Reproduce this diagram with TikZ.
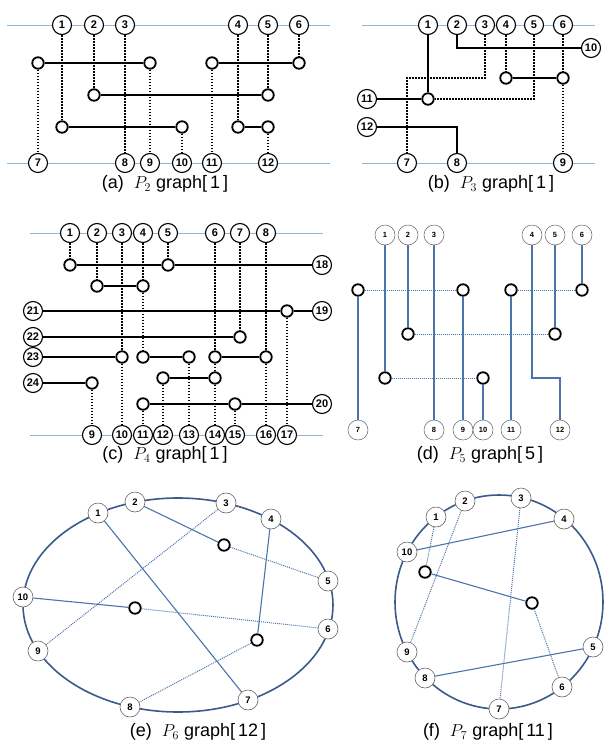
\documentclass[tikz,border=0pt]{standalone}
\usepackage{fontspec}
\setmainfont{Liberation Sans}
\usepackage{xcolor}
\definecolor{rail}{HTML}{8CB6DE}
\definecolor{wire}{HTML}{4A74AA}
\definecolor{ring}{HTML}{3A5A8C}
\definecolor{rim}{HTML}{666666}

\begin{document}
\begin{tikzpicture}[x=1pt,y=-1pt,
  num/.style={circle,draw,line width=1.1pt,fill=white,inner sep=0pt,minimum size=19pt,font=\fontsize{11}{11}\selectfont\bfseries},
  pale/.style={circle,draw=rim,line width=0.5pt,fill=white,inner sep=0pt,minimum size=20pt,font=\fontsize{7.5}{7.5}\selectfont\bfseries},
  rimnum/.style={circle,draw=rim,line width=0.6pt,fill=white,inner sep=0pt,minimum size=20pt,font=\fontsize{9.5}{9.5}\selectfont\bfseries},
  via/.style={circle,draw,line width=1.8pt,fill=white,inner sep=0pt,minimum size=11.5pt},
  sol/.style={line width=1.6pt},
  dot/.style={line width=1.8pt,dash pattern=on 1.5pt off 1.5pt},
  bsol/.style={draw=wire,line width=1.1pt},
  bdot/.style={draw=wire,line width=1pt,dash pattern=on 1pt off 1pt},
  railline/.style={draw=rail,line width=0.9pt},
  captext/.style={font=\fontsize{18}{20}\selectfont}]
\useasboundingbox (0,0) rectangle (605,745);

\draw[railline] (7,25) -- (330,25) (7,163) -- (330,163);
\draw[railline] (362,25) -- (595,25) (362,163) -- (595,163);
\draw[railline] (30,233) -- (323,233) (30,435) -- (323,435);
\draw[ring,line width=1.6pt] (178,605) ellipse [x radius=155pt,y radius=107pt];
\draw[ring,line width=1.6pt] (499,602) ellipse [x radius=104pt,y radius=107pt];

\path node[num] (a1) at (62,25) {1} node[num] (a2) at (94,25) {2} node[num] (a3) at (125,25) {3}
  node[num] (a4) at (238,25) {4} node[num] (a5) at (268,25) {5} node[num] (a6) at (299,25) {6}
  node[num] (a7) at (38,163) {7} node[num] (a8) at (125,163) {8} node[num] (a9) at (150,163) {9}
  node[num] (a10) at (182,163) {10} node[num] (a11) at (212,163) {11} node[num] (a12) at (268,163) {12};
\path node[via] (pa1) at (38,63) {} node[via] (pa2) at (150,63) {} node[via] (pa3) at (212,63) {} node[via] (pa4) at (299,63) {}
  node[via] (pa5) at (94,95) {} node[via] (pa6) at (268,95) {}
  node[via] (pa7) at (62,127) {} node[via] (pa8) at (182,127) {} node[via] (pa9) at (238,127) {} node[via] (pa10) at (268,127) {};
\path[sol] (pa1) edge (pa2) (pa3) edge (pa4) (pa5) edge (pa6) (pa7) edge (pa8) (pa9) edge (pa10);
\path[dot] (a1) edge (pa7) (a2) edge (pa5) (a3) edge (a8) (a4) edge (pa9) (a5) edge (pa6) (a6) edge (pa4)
  (pa1) edge (a7) (pa2) edge (a9) (pa8) edge (a10) (pa3) edge (a11) (pa10) edge (a12);
\node[captext] (capa) at (165,184) {(a)\ \ $P_2$\ graph[\,1\,]};

\path node[num] (b1) at (428,25) {1} node[num] (b2) at (457,25) {2} node[num] (b3) at (485,25) {3}
  node[num] (b4) at (506,25) {4} node[num] (b5) at (534,25) {5} node[num] (b6) at (563,25) {6}
  node[num] (b7) at (407,163) {7} node[num] (b8) at (457,163) {8} node[num] (b9) at (563,163) {9}
  node[num] (b10) at (591,48) {10} node[num] (b11) at (367,99) {11} node[num] (b12) at (367,127) {12};
\path node[via] (pb1) at (428,99) {} node[via] (pb2) at (506,78) {} node[via] (pb3) at (563,78) {};
\coordinate (cb) at (407,78);
\path[sol] (b1) edge (pb1) (b11) edge (pb1) (pb2) edge (pb3);
\draw[sol] (b2) |- (b10);
\draw[sol] (b12) -| (b8);
\path[dot] (b4) edge (pb2) (b6) edge (pb3) (pb3) edge (b9);
\draw[dot] (b5) |- (pb1);
\draw[dot] (b3) |- (cb) -- (b7);
\node[captext] (capb) at (491,184) {(b)\ \ $P_3$\ graph[\,1\,]};

\path node[num] (c1) at (70,233) {1} node[num] (c2) at (97,233) {2} node[num] (c3) at (122,233) {3}
  node[num] (c4) at (143,233) {4} node[num] (c5) at (168,233) {5} node[num] (c6) at (215,233) {6}
  node[num] (c7) at (240,233) {7} node[num] (c8) at (266,233) {8}
  node[num] (c9) at (92,435) {9} node[num] (c10) at (122,435) {10} node[num] (c11) at (143,435) {11}
  node[num] (c12) at (163,435) {12} node[num] (c13) at (189,435) {13} node[num] (c14) at (215,435) {14}
  node[num] (c15) at (235,435) {15} node[num] (c16) at (266,435) {16} node[num] (c17) at (287,435) {17}
  node[num] (c18) at (322,265) {18} node[num] (c19) at (322,311) {19} node[num] (c20) at (322,404) {20}
  node[num] (c21) at (33,311) {21} node[num] (c22) at (33,337) {22} node[num] (c23) at (33,357) {23}
  node[num] (c24) at (33,383) {24};
\path node[via] (pc1) at (70,265) {} node[via] (pc2) at (168,265) {} node[via] (pc3) at (97,286) {} node[via] (pc4) at (143,286) {}
  node[via] (pc5) at (287,311) {} node[via] (pc6) at (240,337) {}
  node[via] (pc7) at (122,357) {} node[via] (pc8) at (143,357) {} node[via] (pc9) at (189,357) {}
  node[via] (pc10) at (215,357) {} node[via] (pc11) at (266,357) {}
  node[via] (pc12) at (163,378) {} node[via] (pc13) at (215,378) {} node[via] (pc14) at (92,383) {}
  node[via] (pc15) at (143,404) {} node[via] (pc16) at (235,404) {};
\path[sol] (pc1) edge (pc2) (pc2) edge (c18) (pc3) edge (pc4) (c21) edge (pc5) (pc5) edge (c19)
  (c22) edge (pc6) (c23) edge (pc7) (pc8) edge (pc9) (pc10) edge (pc11) (pc12) edge (pc13)
  (c24) edge (pc14) (pc15) edge (pc16) (pc16) edge (c20);
\path[dot] (c1) edge (pc1) (c5) edge (pc2) (c2) edge (pc3) (c4) edge (pc4) (pc4) edge (pc8)
  (c3) edge (pc7) (pc7) edge (c10) (c7) edge (pc6) (pc5) edge (c17) (pc9) edge (c13)
  (c6) edge (pc10) (pc10) edge (pc13) (pc13) edge (c14) (c8) edge (pc11) (pc11) edge (c16)
  (pc12) edge (c12) (pc14) edge (c9) (pc15) edge (c11) (pc16) edge (c15);
\node[captext] (capc) at (165,455) {(c)\ \ $P_4$\ graph[\,1\,]};

\path node[pale] (d1) at (385,235) {1} node[pale] (d2) at (408,235) {2} node[pale] (d3) at (434,235) {3}
  node[pale] (d4) at (532,235) {4} node[pale] (d5) at (555,235) {5} node[pale] (d6) at (582,235) {6}
  node[pale] (d7) at (358,430) {7} node[pale] (d8) at (434,430) {8} node[pale] (d9) at (463,430) {9}
  node[pale] (d10) at (483,430) {10} node[pale] (d11) at (511,430) {11} node[pale] (d12) at (560,430) {12};
\path node[via] (pd1) at (358,290) {} node[via] (pd2) at (463,290) {} node[via] (pd3) at (511,290) {} node[via] (pd4) at (582,290) {}
  node[via] (pd5) at (408,334) {} node[via] (pd6) at (555,334) {} node[via] (pd7) at (385,378) {} node[via] (pd8) at (483,378) {};
\coordinate (cd) at (560,378);
\path[bsol] (d1) edge (pd7) (d2) edge (pd5) (d3) edge (d8) (d5) edge (pd6) (d6) edge (pd4)
  (pd1) edge (d7) (pd2) edge (d9) (pd8) edge (d10) (pd3) edge (d11);
\draw[bsol] (d4) |- (cd) -- (d12);
\path[bdot] (pd1) edge (pd2) (pd3) edge (pd4) (pd5) edge (pd6) (pd7) edge (pd8);
\node[captext] (capd) at (480,455) {(d)\ \ $P_5$\ graph[\,5\,]};

\path node[rimnum] (e1) at (98,513) {1} node[rimnum] (e2) at (135,502) {2} node[rimnum] (e3) at (226,503) {3}
  node[rimnum] (e4) at (271,519) {4} node[rimnum] (e5) at (328,581) {5} node[rimnum] (e6) at (328,629) {6}
  node[rimnum] (e7) at (248,700) {7} node[rimnum] (e8) at (130,707) {8} node[rimnum] (e9) at (38,651) {9}
  node[rimnum] (e10) at (23,597) {10};
\path node[via] (pe1) at (224,545) {} node[via] (pe2) at (135,608) {} node[via] (pe3) at (257,640) {};
\path[bsol] (e1) edge (e7) (e2) edge (pe1) (e4) edge (pe3) (e10) edge (pe2);
\path[bdot] (pe1) edge (e5) (e3) edge (e9) (pe3) edge (e8) (pe2) edge (e6);
\node[captext] (cape) at (198,732) {(e)\ \ $P_6$\ graph[\,12\,]};

\path node[rimnum] (f1) at (436,517) {1} node[rimnum] (f2) at (465,501) {2} node[rimnum] (f3) at (521,498) {3}
  node[rimnum] (f4) at (564,519) {4} node[rimnum] (f5) at (593,647) {5} node[rimnum] (f6) at (562,687) {6}
  node[rimnum] (f7) at (499,709) {7} node[rimnum] (f8) at (425,678) {8} node[rimnum] (f9) at (407,652) {9}
  node[rimnum] (f10) at (407,552) {10};
\path node[via] (pf1) at (425,572) {} node[via] (pf2) at (532,603) {};
\path[bsol] (pf1) edge (pf2) (f10) edge (f4) (f8) edge (f5);
\path[bdot] (f1) edge (pf1) (pf2) edge (f6) (f2) edge (f9) (f3) edge (f7);
\node[captext] (capf) at (488,732) {(f)\ \ $P_7$\ graph[\,11\,]};
\end{tikzpicture}
\end{document}
